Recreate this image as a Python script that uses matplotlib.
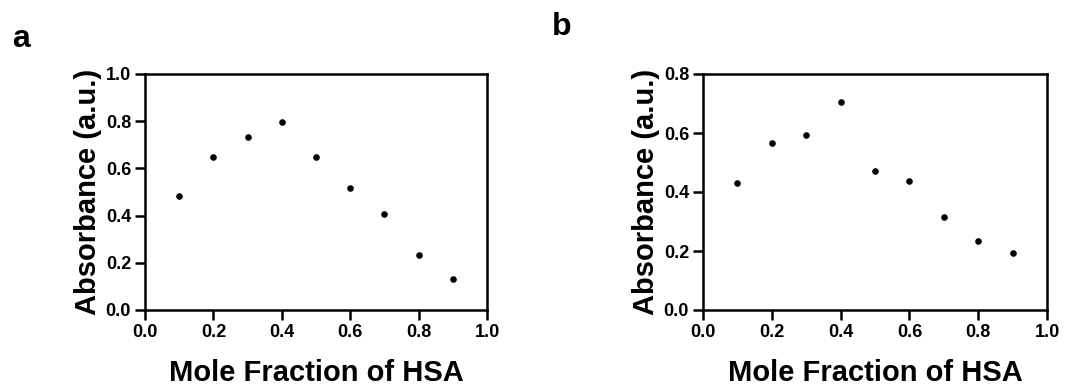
import matplotlib
matplotlib.use('Agg')
import matplotlib.pyplot as plt

# data
mole_fraction = [0.1, 0.2, 0.3, 0.4, 0.5, 0.6, 0.7, 0.8, 0.9]
absorbance_a = [0.484, 0.648, 0.734, 0.795, 0.648, 0.518, 0.405, 0.232, 0.133]
absorbance_b = [0.429, 0.565, 0.593, 0.706, 0.470, 0.437, 0.315, 0.234, 0.193]
panel_labels = ['a', 'b']
y_ticks_a = [0.0, 0.2, 0.4, 0.6, 0.8, 1.0]
y_ticks_b = [0.0, 0.2, 0.4, 0.6, 0.8]
x_ticks = [0.0, 0.2, 0.4, 0.6, 0.8, 1.0]

plt.rcParams['font.family'] = ['Liberation Sans', 'DejaVu Sans']
plt.rcParams['font.weight'] = 'bold'

W, H = 1078, 385
fig = plt.figure(figsize=(W / 100, H / 100), dpi=100)

# axes boxes in pixels: left, top, right, bottom
boxes = [(145, 74, 487, 310), (703, 74, 1047, 310)]
datasets = [(absorbance_a, y_ticks_a, 1.0), (absorbance_b, y_ticks_b, 0.8)]
label_pos = [(12, 47), (552, 35)]

for i in range(2):
	l, t, r, b = boxes[i]
	ax = fig.add_axes([l / W, 1 - b / H, (r - l) / W, (b - t) / H])
	y, yt, ymax = datasets[i]
	ax.scatter(mole_fraction, y, s=14, color='black', zorder=3, clip_on=False)
	ax.set_xlim(0, 1.0)
	ax.set_ylim(0, ymax)
	ax.set_xticks(x_ticks)
	ax.set_yticks(yt)
	ax.set_xticklabels(['%.1f' % v for v in x_ticks])
	ax.set_yticklabels(['%.1f' % v for v in yt])
	for s in ax.spines.values():
		s.set_linewidth(1.8)
	ax.tick_params(axis='both', direction='out', length=7, width=1.8, labelsize=13, pad=3)
	for lab in ax.get_xticklabels() + ax.get_yticklabels():
		lab.set_fontweight('bold')
	ax.set_xlabel('Mole Fraction of HSA', fontsize=21, fontweight='bold', labelpad=13)
	ax.set_ylabel('Absorbance (a.u.)', fontsize=21, fontweight='bold', labelpad=3)
	fig.text(label_pos[i][0] / W, 1 - label_pos[i][1] / H, panel_labels[i],
		fontsize=23, fontweight='bold', ha='left', va='baseline')

fig.savefig('out.png', dpi=100)
